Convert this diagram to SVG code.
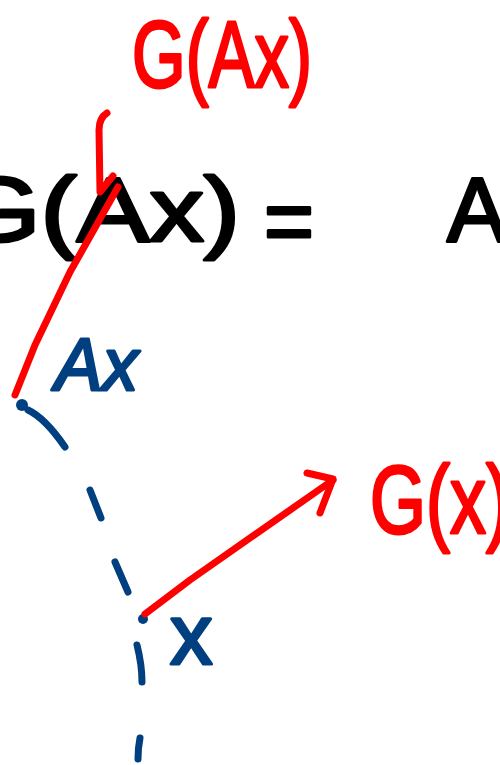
<svg xmlns="http://www.w3.org/2000/svg" width="500" height="765" viewBox="0 0 500 765">
<style>
text{font-family:"Liberation Sans","DejaVu Sans",sans-serif;stroke-linejoin:round}
.red{fill:#ff0000;stroke:#ff0000;stroke-width:3}
.blk{fill:#000;stroke:#000;stroke-width:3}
.blu{fill:#003f80;stroke:#003f80;stroke-width:3}
.rl{fill:none;stroke:#ff0000;stroke-width:7;stroke-linecap:round;stroke-linejoin:round}
.bl{fill:none;stroke:#003f80;stroke-width:7;stroke-linecap:round;stroke-linejoin:round}
</style>
<rect width="500" height="765" fill="#fff"/>
<g id="equation">
<text class="blk" x="-44" y="241" font-size="90" textLength="284" lengthAdjust="spacingAndGlyphs">G(Ax)</text>
<text class="blk" x="264" y="252" font-size="90" textLength="50" lengthAdjust="spacingAndGlyphs">=</text>
<text class="blk" x="447" y="241" font-size="90">A</text>
</g>
<g id="label-GAx">
<text class="red" x="132" y="87" font-size="95" textLength="180" lengthAdjust="spacingAndGlyphs">G(Ax)</text>
</g>
<g id="label-Ax">
<text class="blu" x="55" y="390" font-size="75" font-style="italic" textLength="83" lengthAdjust="spacingAndGlyphs">Ax</text>
</g>
<g id="label-x">
<text class="blu" x="170" y="664" font-size="85">x</text>
</g>
<g id="label-Gx">
<text class="red" x="370" y="533" font-size="97" textLength="140" lengthAdjust="spacingAndGlyphs">G(x)</text>
</g>
<g id="point-Ax"><circle cx="22" cy="405" r="6" fill="#003f80"/></g>
<g id="point-x"><circle cx="143" cy="619" r="5" fill="#003f80"/></g>
<g id="connectors">
<path class="bl" d="M28 410 Q45 418 65 447"/>
<path class="bl" d="M90 490 L101 518"/>
<path class="bl" d="M115 562 L128 592"/>
<path class="bl" d="M137 645 Q142 665 142 682"/>
<path class="bl" d="M140 738 Q138 748 138 759"/>
<path class="rl" d="M15 395 L35 345 L70 272 L118 187"/>
<path class="rl" d="M107 113 Q99 118 99 130 L100 192 L113 176"/>
<path class="rl" d="M145 614 L190 580 L333 480"/>
<path class="rl" d="M307 473 L333 479 L320 513"/>
</g>
</svg>
